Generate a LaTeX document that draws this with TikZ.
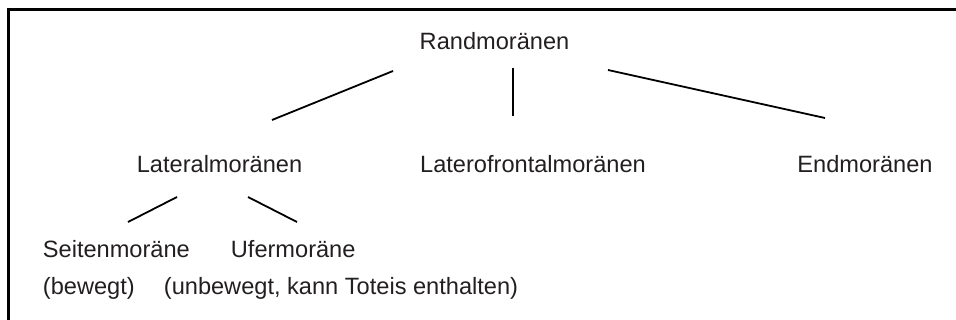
\documentclass[tikz,border=0pt]{standalone}
\usepackage{fontspec}
\setmainfont{Liberation Sans}
\usetikzlibrary{positioning, calc}
\definecolor{cink}{HTML}{231F20}
\tikzset{
  every picture/.style={font=\fontsize{11.8}{14}\selectfont, line width=0.9pt},
  term/.style={text=cink, inner sep=0pt, anchor=base},
  leftterm/.style={term, anchor=base west},
  branch/.style={draw=black, line width=0.9pt},
  frame/.style={draw=black, line width=1.3pt},
}

\begin{document}
\begin{tikzpicture}[x=0.5pt, y=-0.5pt]
  \useasboundingbox (0,0) rectangle (956,320);
  % open frame, only top and left edge
  \draw[frame] (956,9.5) -- (8.5,9.5) -- (8.5,320);

  \node[term] (rand) at (494.5,50) {Randmoränen};
  \node[term] (lat) at (219.5,173) {Lateralmoränen};
  \node[term] (latfront) at (533,173) {Laterofrontalmoränen};
  \node[term] (end) at (865,173) {Endmoränen};
  \node[leftterm] (seiten) at (42,257) {Seitenmoräne};
  \node[leftterm] (ufer) at (230,257) {Ufermoräne};
  \node[leftterm] (bew) at (42,294) {(bewegt)};
  \node[leftterm] (unbew) at (163,294) {(unbewegt, kann Toteis enthalten)};

  \draw[branch] ($(rand.base)+(-101.5,21)$) -- ($(lat.base)+(52.5,-53)$);
  \draw[branch] ($(rand.base)+(18.5,18)$) -- ($(latfront.base)+(-20,-57)$);
  \draw[branch] ($(rand.base)+(113.5,20)$) -- ($(end.base)+(-40,-55)$);
  \draw[branch] ($(lat.base)+(-42.5,24)$) -- ($(seiten.base west)+(86,-35)$);
  \draw[branch] ($(lat.base)+(28.5,24)$) -- ($(ufer.base west)+(67,-35)$);
\end{tikzpicture}
\end{document}
